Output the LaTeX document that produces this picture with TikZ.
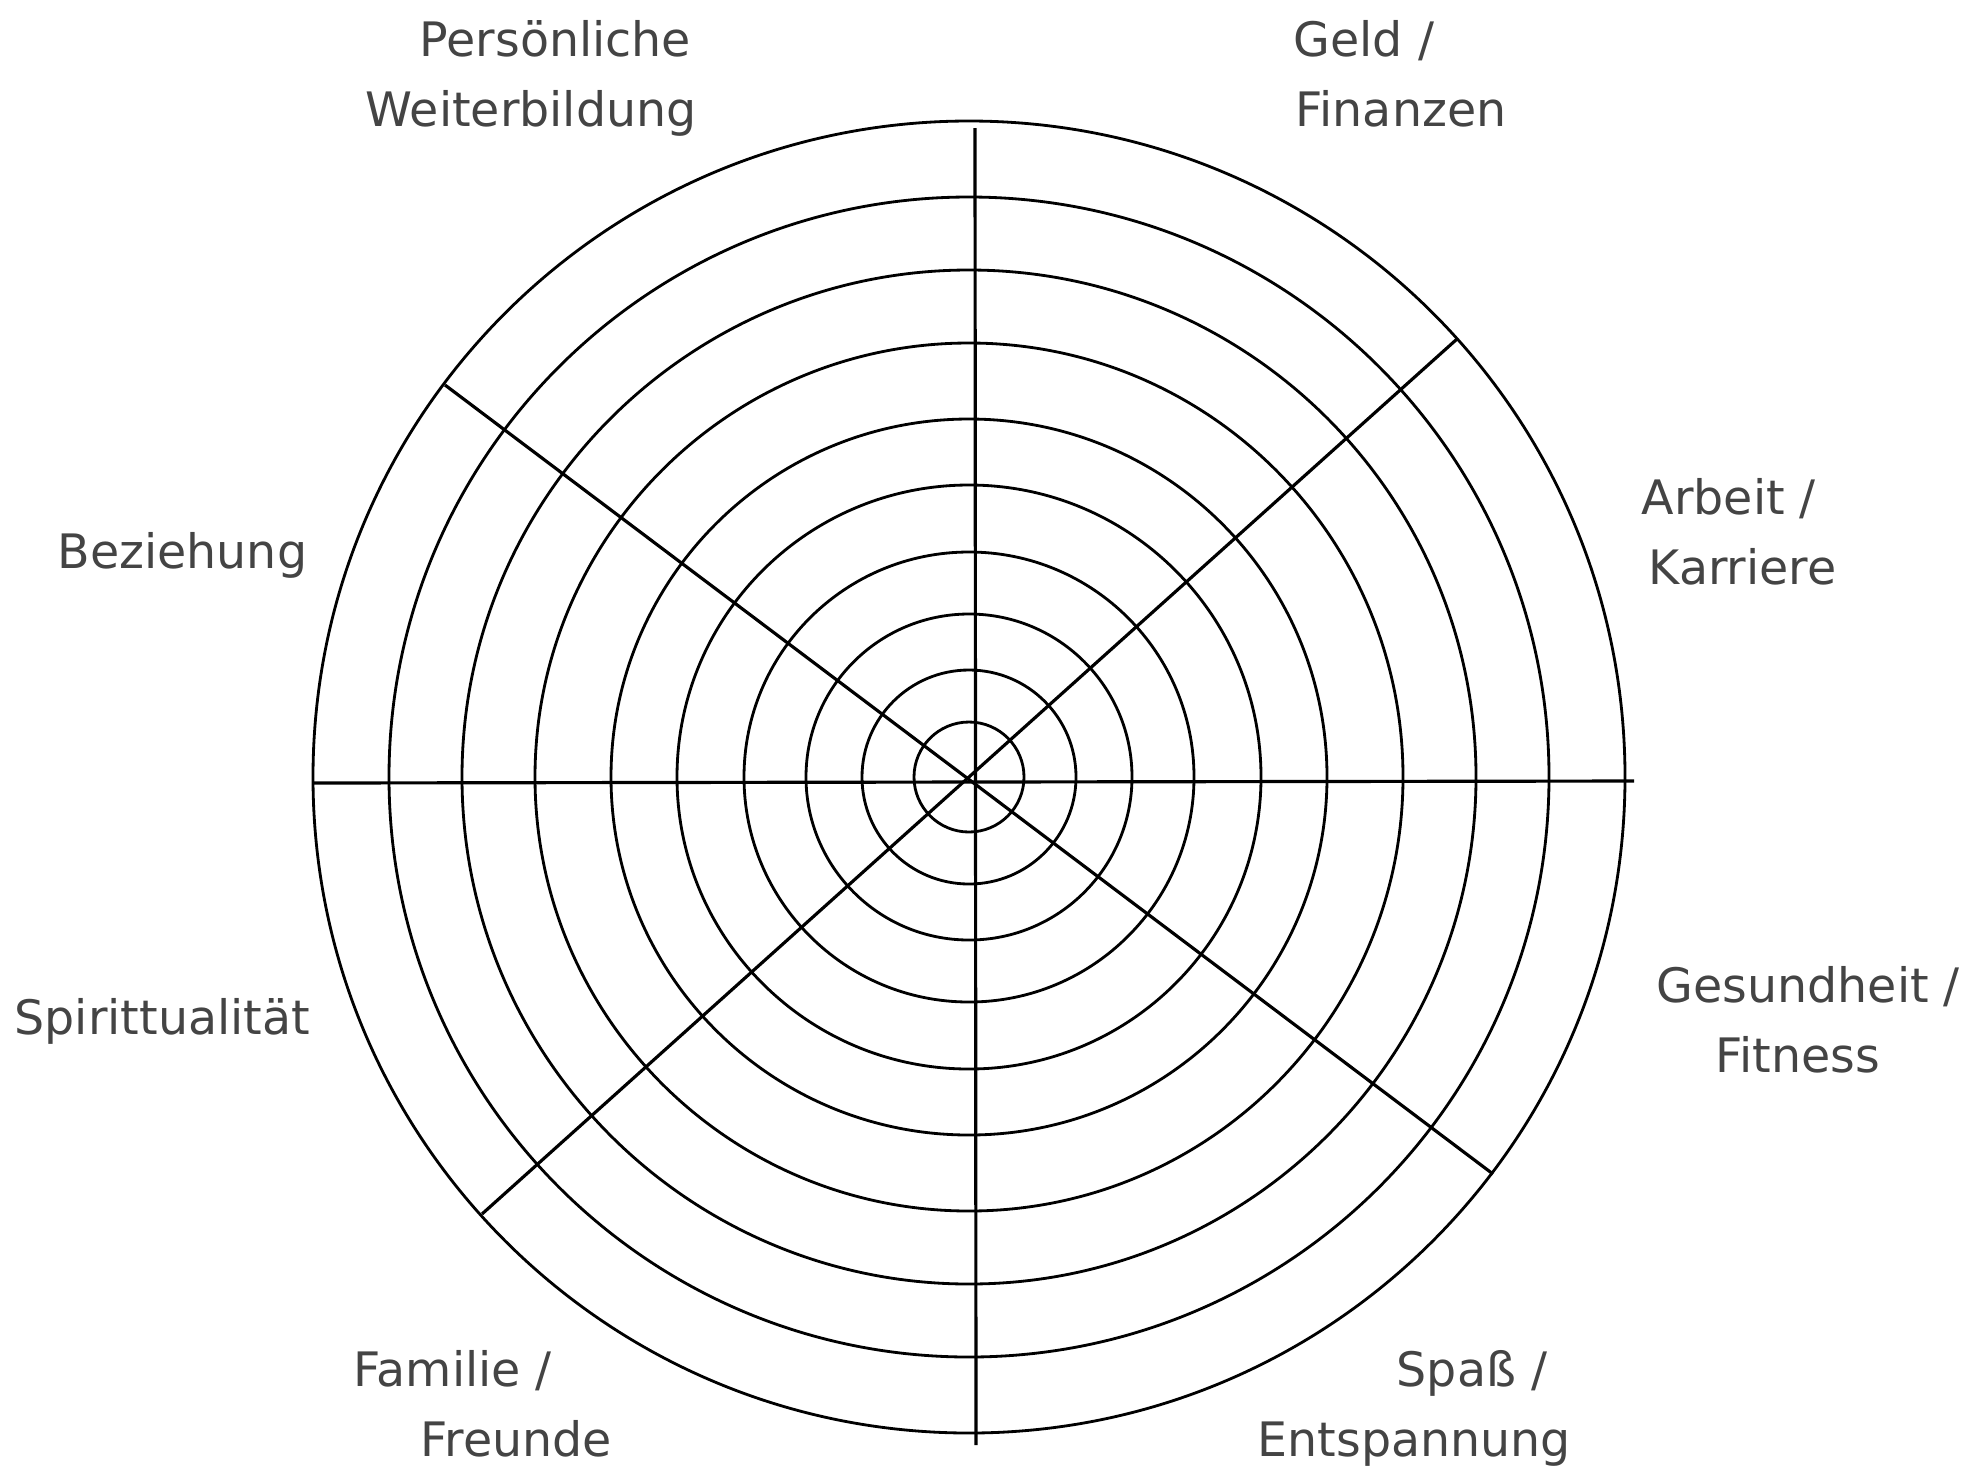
\documentclass[tikz,border=0pt]{standalone}
\usepackage{fontspec}
\setmainfont{DejaVu Sans}
\definecolor{labelgray}{RGB}{68,68,68}
\begin{document}
\begin{tikzpicture}[x=0.01cm,y=-0.01cm,
  ring/.style={line width=0.8pt},
  spoke/.style={line width=0.9pt},
  lbl/.style={inner sep=0pt, anchor=base west, text=labelgray, font=\fontsize{13.5pt}{20pt}\selectfont}]
\useasboundingbox[fill=white] (0,0) rectangle (1985,1466);
\coordinate (c) at (969,777);
\foreach \r in {55,107,163,225,292,358,434,507,580,656}
  \draw[ring] (c) circle[radius={\r*0.01cm}];
% spokes
\coordinate (hl) at (314,783);
\coordinate (hr) at (1634,781);
\coordinate (vt) at (975,128);
\coordinate (vb) at (976,1445);
\coordinate (dul) at (445,385);
\coordinate (dlr) at (1493,1174);
\coordinate (dur) at (1457,339);
\coordinate (dll) at (482,1214);
\draw[spoke] (hl) -- (hr);
\draw[spoke] (vt) -- (vb);
\draw[spoke] (dul) -- (dlr);
\draw[spoke] (dur) -- (dll);
% labels
\node[lbl] (pw1) at (419,56) {Persönliche};
\node[lbl] (pw2) at (365,126) {Weiterbildung};
\node[lbl] (gf1) at (1293,56) {Geld /};
\node[lbl] (gf2) at (1295,126) {Finanzen};
\node[lbl] (bz) at (57,568) {Beziehung};
\node[lbl] (ak1) at (1641,514) {Arbeit /};
\node[lbl] (ak2) at (1648,584) {Karriere};
\node[lbl] (sp) at (14,1034) {Spirittualität};
\node[lbl] (gs1) at (1656,1002) {Gesundheit /};
\node[lbl] (gs2) at (1715,1072) {Fitness};
\node[lbl] (ff1) at (353,1386) {Familie /};
\node[lbl] (ff2) at (420,1456) {Freunde};
\node[lbl] (se1) at (1396,1386) {Spaß /};
\node[lbl] (se2) at (1257,1456) {Entspannung};
\end{tikzpicture}
\end{document}
